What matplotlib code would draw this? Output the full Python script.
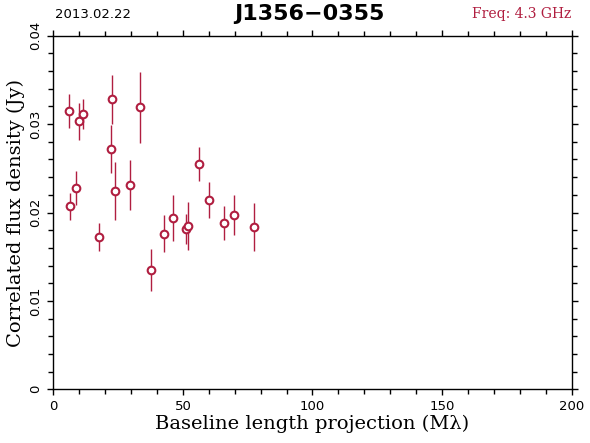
import matplotlib
matplotlib.use("Agg")
import matplotlib.pyplot as plt
from matplotlib.ticker import MultipleLocator

baseline = [6.2, 6.6, 8.8, 9.8, 11.6, 17.5, 22.1, 22.8, 23.8, 29.7, 33.4, 37.7,
            42.9, 46.1, 51.2, 51.8, 56.3, 59.9, 65.7, 69.6, 77.3]
flux = [0.0315, 0.0207, 0.0228, 0.0303, 0.0311, 0.0172, 0.0272, 0.0328, 0.0224,
        0.0231, 0.0319, 0.0135, 0.0176, 0.0194, 0.0181, 0.0185, 0.0255, 0.0214,
        0.0188, 0.0197, 0.0184]
flux_err = [0.0019, 0.0015, 0.0019, 0.0021, 0.0017, 0.0016, 0.0027, 0.0028, 0.0033,
            0.0028, 0.0040, 0.0024, 0.0021, 0.0026, 0.0017, 0.0027, 0.0019, 0.0020,
            0.0019, 0.0023, 0.0027]

x_ticks = [0, 50, 100, 150, 200]
x_ticklabels = ['0', '50', '100', '150', '200']
y_ticks = [0, 0.01, 0.02, 0.03, 0.04]
y_ticklabels = ['0', '0.01', '0.02', '0.03', '0.04']

source = "J1356\u22120355"
date = "2013.02.22"
freq_label = "Freq: 4.3 GHz"
color = "#b01e40"

fig = plt.figure(figsize=(5.9, 4.43), dpi=100)
ax = fig.add_axes([0.0903, 0.1212, 0.969 - 0.0903, 0.9194 - 0.1212])

ax.errorbar(baseline, flux, yerr=flux_err, fmt='o', color=color, ecolor=color,
            elinewidth=1.0, capsize=0, markersize=5.5, markerfacecolor='white',
            markeredgecolor=color, markeredgewidth=1.5)

ax.set_xlim(0, 200)
ax.set_ylim(0, 0.04)
ax.set_xticks(x_ticks)
ax.set_xticklabels(x_ticklabels)
ax.set_yticks(y_ticks)
ax.set_yticklabels(y_ticklabels, rotation=90, va='center')
ax.xaxis.set_minor_locator(MultipleLocator(10))
ax.yaxis.set_minor_locator(MultipleLocator(0.002))
ax.tick_params(which='both', direction='out', top=True, right=True,
               labeltop=False, labelright=False, color='black', width=1.0)
ax.tick_params(which='major', length=4, labelsize=9.5, pad=4)
ax.tick_params(which='minor', length=3.5)
for s in ax.spines.values():
    s.set_linewidth(1.0)

ax.set_xlabel("Baseline length projection (M\u03bb)", fontsize=14,
              family='DejaVu Serif', labelpad=1)
ax.set_ylabel("Correlated flux density (Jy)", fontsize=14,
              family='DejaVu Serif', labelpad=3)

fig.text(0.093, 0.968, date, fontsize=9.5, va='center', ha='left')
fig.text(0.525, 0.968, source, fontsize=16, fontweight='bold', va='center', ha='center')
fig.text(0.968, 0.968, freq_label, fontsize=10, va='center', ha='right',
         color=color, family='DejaVu Serif')

fig.savefig("out.png", dpi=100)
